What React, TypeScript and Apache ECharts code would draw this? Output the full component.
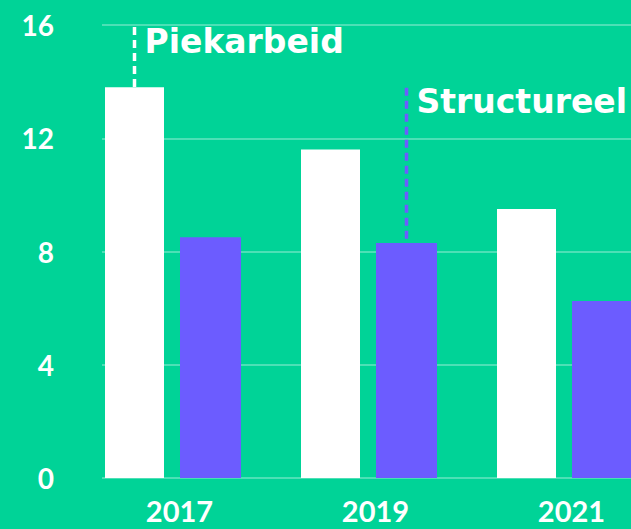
import React, { useEffect, useRef } from "react";
import * as echarts from "echarts";

const years = ["2017", "2019", "2021"];
const piekarbeid = [13.8, 11.6, 9.5];
const structureel = [8.5, 8.3, 6.25];
const yTicks = { min: 0, max: 16, interval: 4 };

// annotations: category index, which bar (0 = Piekarbeid, 1 = Structureel), top value of dashed line, text
const markerCategory = [0, 1];
const markerBar = [0, 1];
const markerTop = [16, 13.85];
const markerText = ["Piekarbeid", "Structureel"];

const BG = "#00D397";
const PURPLE = "#6C5CFF";
const WHITE_W = 59;
const PURPLE_W = 61;
const GAP = 16;

export default function App() {
  const ref = useRef<HTMLDivElement>(null);
  useEffect(() => {
    if (!ref.current) return;
    const chart = echarts.init(ref.current, null, { renderer: "svg" });
    const groupW = WHITE_W + GAP + PURPLE_W;
    const barCenterOffset = [-groupW / 2 + WHITE_W / 2, -groupW / 2 + WHITE_W + GAP + PURPLE_W / 2];
    const barValues = [piekarbeid, structureel];
    const markerData = markerCategory.map((c, i) => [c, barValues[markerBar[i]][c], markerTop[i], markerBar[i]]);
    chart.setOption({
      animation: false,
      backgroundColor: BG,
      grid: [
        { left: 102, width: 600, top: 25, bottom: 51, outerBoundsMode: "none", containLabel: false },
        { left: 75, width: 588, top: 25, bottom: 51, outerBoundsMode: "none", containLabel: false },
      ],
      xAxis: [
        { gridIndex: 0, type: "value", min: 0, max: 1, show: false },
        {
          gridIndex: 1,
          type: "category",
          data: years,
          axisLine: { show: false },
          axisTick: { show: false },
          axisLabel: {
            color: "#ffffff",
            fontFamily: "Lato",
            fontWeight: "bold",
            fontSize: 29,
            margin: 18,
            padding: [0, 0, 0, 13],
          },
        },
      ],
      yAxis: [
        {
          gridIndex: 0,
          type: "value",
          min: yTicks.min,
          max: yTicks.max,
          interval: yTicks.interval,
          axisLine: { show: false },
          axisTick: { show: false },
          axisLabel: {
            color: "#ffffff",
            fontFamily: "Lato",
            fontWeight: "bold",
            fontSize: 28,
            margin: 48,
          },
          splitLine: { lineStyle: { color: "rgba(255,255,255,0.4)", width: 1.5 } },
        },
        { gridIndex: 1, type: "value", min: yTicks.min, max: yTicks.max, show: false, splitLine: { show: false } },
      ],
      series: [
        {
          name: "Piekarbeid",
          type: "bar",
          xAxisIndex: 1,
          yAxisIndex: 1,
          data: piekarbeid,
          barWidth: WHITE_W,
          barGap: (GAP / WHITE_W) * 100 + "%",
          itemStyle: { color: "#ffffff" },
        },
        {
          name: "Structureel",
          type: "bar",
          xAxisIndex: 1,
          yAxisIndex: 1,
          data: structureel,
          barWidth: PURPLE_W,
          barGap: (GAP / WHITE_W) * 100 + "%",
          itemStyle: { color: PURPLE },
        },
        {
          type: "custom",
          xAxisIndex: 1,
          yAxisIndex: 1,
          data: markerData,
          z: 5,
          renderItem: (params: any, api: any) => {
            const i = params.dataIndex;
            const cat = api.value(0);
            const barTop = api.coord([cat, api.value(1)]);
            const top = api.coord([cat, api.value(2)]);
            const which = api.value(3);
            const x = barTop[0] + barCenterOffset[which];
            const color = which === 0 ? "#ffffff" : PURPLE;
            return {
              type: "group",
              children: [
                {
                  type: "line",
                  shape: { x1: x, y1: top[1] + 2, x2: x, y2: barTop[1] },
                  style: { stroke: color, lineWidth: 3.5, lineDash: [8, 5] },
                },
                {
                  type: "text",
                  x: x + 10,
                  y: top[1] + 16,
                  style: {
                    text: markerText[i],
                    fill: "#ffffff",
                    font: 'bold 33px "DejaVu Sans"',
                    align: "left",
                    verticalAlign: "middle",
                  },
                },
              ],
            };
          },
        },
      ],
    });
    return () => chart.dispose();
  }, []);
  return <div ref={ref} style={{ position: "fixed", left: 0, top: 0, width: 631, height: 529 }} />;
}
